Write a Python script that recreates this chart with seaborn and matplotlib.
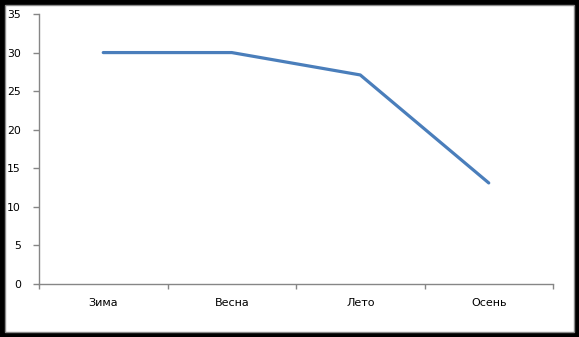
import matplotlib
matplotlib.use("Agg")
import matplotlib.pyplot as plt
from matplotlib.patches import Rectangle
from matplotlib.ticker import FixedLocator
import seaborn as sns
import pandas as pd

seasons = ["Зима", "Весна", "Лето", "Осень"]
values = [30, 30, 27.1, 13.1]
y_ticks = [0, 5, 10, 15, 20, 25, 30, 35]

sns.set_theme(style="white")
plt.rcParams["font.family"] = ["DejaVu Sans"]

W, H = 579, 337
fig = plt.figure(figsize=(W / 100, H / 100), dpi=100, facecolor="black")

# white chart panel with a thin grey frame inside the black border
fig.patches.append(Rectangle((5 / W, 5 / H), (W - 10) / W, (H - 10) / H,
                             transform=fig.transFigure, facecolor="white",
                             edgecolor="#8c8c8c", linewidth=1.0, zorder=-10))

ax = fig.add_axes([39 / W, (H - 284) / H, (553 - 39) / W, (284 - 14) / H])
ax.set_facecolor("none")
ax.set_zorder(5)

df = pd.DataFrame({"season": seasons, "value": values})
sns.lineplot(data=df, x="season", y="value", ax=ax, color="#4a7ebb",
             linewidth=2.3, sort=False)

ax.set_xlim(-0.5, len(seasons) - 0.5)
ax.set_ylim(0, 35)
ax.set_yticks(y_ticks)
ax.set_xticks(range(len(seasons)))
ax.set_xticklabels(seasons)
ax.xaxis.set_minor_locator(FixedLocator([i - 0.5 for i in range(len(seasons) + 1)]))
ax.set_xlabel("")
ax.set_ylabel("")

for side in ("top", "right"):
    ax.spines[side].set_visible(False)
for side in ("left", "bottom"):
    ax.spines[side].set_color("#868686")
    ax.spines[side].set_linewidth(1.0)

ax.tick_params(axis="y", which="major", left=True, length=4, width=1,
               color="#868686", labelsize=7.8, labelcolor="black", pad=9)
ax.tick_params(axis="x", which="major", bottom=False, length=0,
               labelsize=8, labelcolor="black", pad=10)
ax.tick_params(axis="x", which="minor", bottom=True, length=3.5, width=1,
               color="#868686")

fig.savefig("out.png", dpi=100, facecolor=fig.get_facecolor())
